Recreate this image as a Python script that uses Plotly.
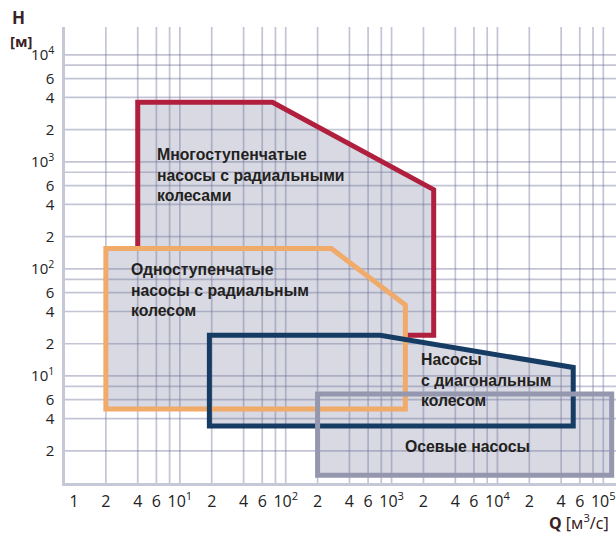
import numpy as np
import plotly.graph_objects as go

# Pump application fields: flow Q [m³/s] vs head H [m], polygon vertices
multistage_q = [4, 75, 2500, 2500, 4]
multistage_h = [3600, 3600, 550, 24, 24]

singlestage_q = [2, 270, 1350, 1350, 2]
singlestage_h = [155, 155, 46, 4.9, 4.9]

diagonal_q = [19, 780, 52000, 52000, 19]
diagonal_h = [24, 24, 12, 3.4, 3.4]

axial_q = [200, 120000, 120000, 200]
axial_h = [6.8, 6.8, 1.18, 1.18]

region_names = [
    "Многоступенчатые<br>насосы с радиальными<br>колесами",
    "Одноступенчатые<br>насосы с радиальным<br>колесом",
    "Насосы<br>с диагональным<br>колесом",
    "Осевые насосы",
]

# Tick labels
x_tick_vals = [1, 2, 4, 6, 10, 20, 40, 60, 100, 200, 400, 600, 1000,
               2000, 4000, 6000, 10000, 20000, 40000, 60000, 100000]
x_tick_text = ["1", "2", "4", "6", "10<sup>1</sup>", "2", "4", "6", "10<sup>2</sup>",
               "2", "4", "6", "10<sup>3</sup>", "2", "4", "6", "10<sup>4</sup>",
               "2", "4", "6", "10<sup>5</sup>"]
y_tick_vals = [2, 4, 6, 10, 20, 40, 60, 100, 200, 400, 600, 1000,
               2000, 4000, 6000, 10000]
y_tick_text = ["2", "4", "6", "10<sup>1</sup>", "2", "4", "6", "10<sup>2</sup>",
               "2", "4", "6", "10<sup>3</sup>", "2", "4", "6", "10<sup>4</sup>"]

# Grid multiples per decade
grid_mult = [2, 4, 6, 8, 10]

X_RANGE = [-0.085, 5.12]
Y_RANGE = [0.0, 4.26]

FILL = "#d8d9e2"
RED = "#b11f3e"
ORANGE = "#f0aa6a"
BLUE = "#163c64"
GREY = "#9497ae"
GRID = "rgba(112,115,155,0.42)"
TXT = "#231f20"
AXT = "#3a2224"

fig = go.Figure()


def closed(a):
    return list(a) + [a[0]]


# Filled areas (drawn first so grid shows over them)
for qs, hs in [(multistage_q, multistage_h), (singlestage_q, singlestage_h),
               (diagonal_q, diagonal_h), (axial_q, axial_h)]:
    fig.add_trace(go.Scatter(x=closed(qs), y=closed(hs), mode="lines",
                             fill="toself", fillcolor=FILL,
                             line=dict(width=0, color=FILL),
                             hoverinfo="skip", showlegend=False))

# Grid lines on top of the fills
xmin, xmax = 10 ** X_RANGE[0], 10 ** X_RANGE[1]
ymin, ymax = 10 ** Y_RANGE[0], 10 ** Y_RANGE[1]
gx, gy = [], []
for d in range(0, 5):
    for m in grid_mult:
        v = m * 10 ** d
        if v <= xmax:
            gx += [v, v, None]
            gy += [ymin, ymax, None]
for d in range(0, 4):
    for m in grid_mult:
        v = m * 10 ** d
        if v <= ymax:
            gx += [xmin, xmax, None]
            gy += [v, v, None]
fig.add_trace(go.Scatter(x=gx, y=gy, mode="lines",
                         line=dict(color=GRID, width=1.7),
                         hoverinfo="skip", showlegend=False))

# Outlines: the multistage field is partly hidden behind the single-stage one
red_q = [multistage_q[0]] + multistage_q[:4] + [singlestage_q[2]]
red_h = [singlestage_h[0]] + multistage_h[:4] + [multistage_h[3]]
fig.add_trace(go.Scatter(x=red_q, y=red_h, mode="lines",
                         line=dict(color=RED, width=5),
                         hoverinfo="skip", showlegend=False))
for qs, hs, col in [(singlestage_q, singlestage_h, ORANGE),
                    (diagonal_q, diagonal_h, BLUE),
                    (axial_q, axial_h, GREY)]:
    fig.add_trace(go.Scatter(x=closed(qs) + [qs[1]], y=closed(hs) + [hs[1]],
                             mode="lines", line=dict(color=col, width=5),
                             hoverinfo="skip", showlegend=False))

# Region labels (log-axis annotation coordinates)
label_pos = [(0.765, 2.878), (0.52, 1.806), (3.255, 0.962), (3.104, 0.338)]
for name, (lx, ly) in zip(region_names, label_pos):
    fig.add_annotation(x=lx, y=ly, xref="x", yref="y", text=name,
                       showarrow=False, xanchor="left", yanchor="middle",
                       align="left",
                       font=dict(family="Liberation Sans, Arial, sans-serif",
                                 size=15.8, color=TXT, weight="bold"))

# Axis titles
fig.add_annotation(x=(18 - 65) / 551, y=(483 - 17) / 456, xref="paper", yref="paper",
                   text="H", showarrow=False, xanchor="center", yanchor="middle",
                   font=dict(family="Noto Sans, sans-serif", size=17, color=AXT,
                             weight="bold"))
fig.add_annotation(x=(21 - 65) / 551, y=(483 - 41) / 456, xref="paper", yref="paper",
                   text="[м]", showarrow=False, xanchor="center", yanchor="middle",
                   font=dict(family="Noto Sans, sans-serif", size=15, color=AXT,
                             weight="bold"))
fig.add_annotation(x=(611 - 65) / 551, y=(483 - 522) / 456, xref="paper", yref="paper",
                   text="<b>Q</b> [м<sup>3</sup>/с]", showarrow=False,
                   xanchor="right", yanchor="middle",
                   font=dict(family="Noto Sans, sans-serif", size=16, color=AXT))

x_tick_font = dict(family="Open Sans, Noto Sans, sans-serif", size=16, color="#222222")
y_tick_font = dict(family="Open Sans, Noto Sans, sans-serif", size=15, color="#222222")
fig.update_xaxes(type="log", range=X_RANGE, showgrid=False, zeroline=False,
                 tickmode="array", tickvals=x_tick_vals, ticktext=x_tick_text,
                 ticks="", tickfont=x_tick_font, showline=True,
                 linecolor="#c6c7d7", linewidth=2.5, ticklabelstandoff=2)
fig.update_yaxes(type="log", range=Y_RANGE, showgrid=False, zeroline=False,
                 tickmode="array", tickvals=y_tick_vals, ticktext=y_tick_text,
                 ticks="", tickfont=y_tick_font, showline=True,
                 linecolor="#c6c7d7", linewidth=2.5, ticklabelstandoff=5)

fig.update_layout(width=616, height=533, autosize=False,
                  margin=dict(l=65, r=0, t=27, b=50),
                  paper_bgcolor="white", plot_bgcolor="white",
                  showlegend=False)

fig.write_html("out.html")
